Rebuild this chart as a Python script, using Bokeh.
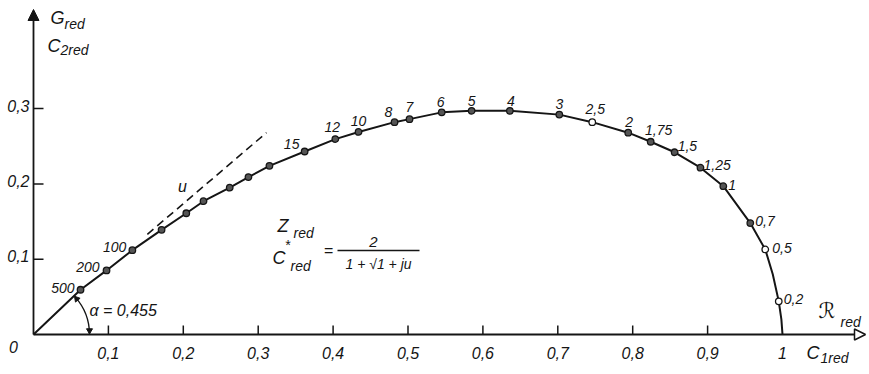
import math
from bokeh.plotting import figure
from bokeh.models import Range1d, Arrow, NormalHead, ColumnDataSource
from bokeh.core.properties import value
from bokeh.embed import file_html
from bokeh.resources import INLINE

# ---------------- data ----------------
point_x = [0.0628, 0.0975, 0.132, 0.171, 0.204, 0.227, 0.262, 0.287, 0.315,
           0.362, 0.403, 0.434, 0.482, 0.502, 0.545, 0.585, 0.636, 0.702,
           0.746, 0.794, 0.824, 0.856, 0.8905, 0.921, 0.957, 0.977, 0.995]
point_y = [0.0594, 0.0851, 0.112, 0.139, 0.161, 0.177, 0.195, 0.209, 0.224,
           0.243, 0.2595, 0.269, 0.282, 0.286, 0.295, 0.297, 0.297, 0.292,
           0.282, 0.268, 0.256, 0.242, 0.2215, 0.197, 0.148, 0.113, 0.044]
point_label = ["500", "200", "100", "", "", "", "", "", "",
               "15", "12", "10", "8", "7", "6", "5", "4", "3",
               "2,5", "2", "1,75", "1,5", "1,25", "1", "0,7", "0,5", "0,2"]
open_points = ["2,5", "0,5", "0,2"]

# curve points without a marker (u -> infinity at the origin, u -> 0 at 1)
curve_head_x = [0.0]
curve_head_y = [0.0]
curve_mid_x = [0.987]          # between u = 0,5 and u = 0,2
curve_mid_y = [0.080]
curve_tail_x = [0.9985, 1.0]
curve_tail_y = [0.020, 0.0]

# dashed tangent "u"
tangent_x = [0.152, 0.311]
tangent_y = [0.133, 0.268]

x_ticks = [0.1, 0.2, 0.3, 0.4, 0.5, 0.6, 0.7, 0.8, 0.9, 1.0]
x_tick_labels = ["0,1", "0,2", "0,3", "0,4", "0,5", "0,6", "0,7", "0,8", "0,9", "1"]
y_ticks = [0.1, 0.2, 0.3]
y_tick_labels = ["0,1", "0,2", "0,3"]
alpha_text = "α = 0,455"

# ---------------- layout (screen pixels) ----------------
W, H = 866, 372
OFF = 0                   # page offset of the plot canvas
X0, SX = 33.0, 749.0      # page x of data 0, pixels per unit
Y0, SY = 334.0, 753.0     # page y of data 0, pixels per unit
INK = "#151515"
FONT = "Liberation Sans"

def tx(page_x):
    return (page_x - X0) / SX

def ty(page_y):
    return (Y0 - page_y) / SY

p = figure(width=W, height=H, output_backend="svg", toolbar_location=None,
           x_range=Range1d(tx(OFF), tx(OFF + W)), y_range=Range1d(ty(OFF + H), ty(OFF)),
           x_axis_location=None, y_axis_location=None, min_border=0,
           background_fill_color="white", border_fill_color="white")
p.outline_line_color = None
p.grid.visible = False

# axes with arrows
p.add_layout(Arrow(end=NormalHead(size=11, fill_color=INK, line_color=INK, line_width=1),
                   x_start=0, y_start=0, x_end=0, y_end=ty(9),
                   line_color=INK, line_width=1.8))
p.add_layout(Arrow(end=NormalHead(size=11, fill_color="white", line_color=INK, line_width=1.5),
                   x_start=0, y_start=0, x_end=tx(865), y_end=0,
                   line_color=INK, line_width=1.8))

# ticks (inside)
xt = x_ticks[:-1]
p.segment(x0=xt, y0=[0] * len(xt), x1=xt, y1=[9 / SY] * len(xt), line_color=INK, line_width=1.5)
p.segment(x0=[0] * len(y_ticks), y0=y_ticks, x1=[10 / SX] * len(y_ticks), y1=y_ticks,
          line_color=INK, line_width=1.5)

# tick labels
p.text(x=x_ticks, y=[-18 / SY] * len(x_ticks), text=x_tick_labels,
       text_font=value(FONT), text_font_size="16px", text_font_style="italic",
       text_align="center", text_baseline="middle", text_color=INK)
p.text(x=[0] * len(y_ticks), y=y_ticks, text=y_tick_labels, x_offset=-4, y_offset=-3,
       text_font=value(FONT), text_font_size="16px", text_font_style="italic",
       text_align="right", text_baseline="middle", text_color=INK)

def label(txt, page_x, page_y, size, align="left", font=FONT, style="italic"):
    p.text(x=[tx(page_x)], y=[ty(page_y)], text=[txt], text_font=value(font),
           text_font_size=f"{size}px", text_font_style=style, text_align=align,
           text_baseline="middle", text_color=INK)

label("0", 13, 346, 16, "center")

# axis titles
label("G", 50, 17, 18)
label("red", 64, 23, 14)
label("C", 47, 45, 18)
label("2red", 60, 49, 14)
label("ℛ", 818, 310, 21, font="DejaVu Sans")
label("red", 840, 321, 14)
label("C", 806, 352, 18)
label("1red", 820, 357, 14)

# formula
label("Z", 277, 225, 18)
label("red", 293, 232, 14)
label("C", 272, 257, 18)
label("*", 287, 244, 14, "center")
label("red", 290, 265, 14)
label("=", 328, 250, 16, "center")
label("2", 373, 241, 15, "center")
p.segment(x0=[tx(337)], y0=[ty(250)], x1=[tx(419)], y1=[ty(250)], line_color=INK, line_width=1.5)
label("1 + √1 + ju", 378, 263, 14, "center")

# tangent
p.line(tangent_x, tangent_y, line_color=INK, line_width=1.6, line_dash="8 5")
label("u", 182, 186, 16, "center")

# curve
curve_x = curve_head_x + point_x[:-1] + curve_mid_x + point_x[-1:] + curve_tail_x
curve_y = curve_head_y + point_y[:-1] + curve_mid_y + point_y[-1:] + curve_tail_y
p.line(curve_x, curve_y, line_color=INK, line_width=2)

# angle alpha
ang = math.atan2(point_y[0] * SY, point_x[0] * SX)
R = 56
p.arc(x=[0], y=[0], radius=R, radius_units="screen", start_angle=0, end_angle=ang - 0.03,
      line_color=INK, line_width=1.4)
p.scatter(x=[R / SX], y=[4 / SY], marker="triangle", size=6, angle=math.pi,
          fill_color=INK, line_color=INK)
a2 = ang - 0.07
p.scatter(x=[R * math.cos(a2) / SX], y=[R * math.sin(a2) / SY], marker="triangle", size=6,
          angle=a2, fill_color=INK, line_color=INK)
p.text(x=[R / SX], y=[0], text=[alpha_text], x_offset=0, y_offset=-24,
       text_font=value(FONT), text_font_size="16px", text_font_style="italic",
       text_align="left", text_baseline="middle", text_color=INK)

# markers
fills = ["white" if lab in open_points else "#555555" for lab in point_label]
p.scatter(point_x, point_y, size=6.5, fill_color=fills, line_color=INK, line_width=1.3)

# marker labels: offsets in screen pixels
label_dx = [-6, -7, -6, 0, 0, 0, 0, 0, 0,
            -13, -3, 0, -6, 0, -1, 0, 1, 0,
            3, 1, 8, 3, 3, 5, 5, 7, 5]
label_dy = [-2, -3, -3, 0, 0, 0, 0, 0, 0,
            -8, -12, -11, -10, -12, -10, -10, -10, -11,
            -13, -11, -12, -6, -3, -1, -2, -1, -2]
label_side = ["right"] * 3 + ["none"] * 6 + ["center"] * 12 + ["left"] * 6

for side in ("right", "center", "left"):
    idx = [i for i, s in enumerate(label_side) if s == side]
    src = ColumnDataSource(dict(x=[point_x[i] for i in idx], y=[point_y[i] for i in idx],
                                t=[point_label[i] for i in idx],
                                dx=[label_dx[i] for i in idx], dy=[label_dy[i] for i in idx]))
    p.text(x="x", y="y", text="t", x_offset="dx", y_offset="dy", source=src,
           text_font=value(FONT), text_font_size="14px", text_font_style="italic",
           text_align=side, text_baseline="middle", text_color=INK)

open("out.html", "w").write(file_html(p, INLINE))
